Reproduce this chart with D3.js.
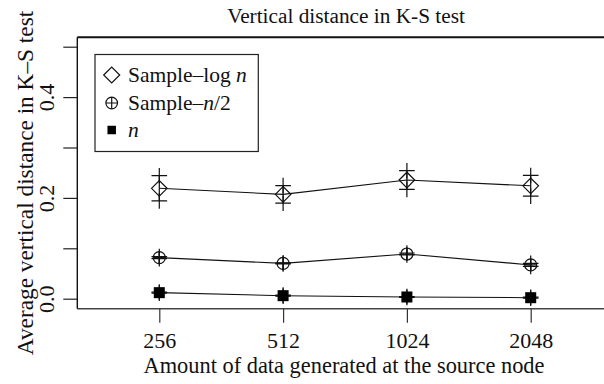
<!DOCTYPE html>
<html>
<head>
<meta charset="utf-8">
<script src="https://cdn.jsdelivr.net/npm/d3@7"></script>
<style>
  html, body { margin: 0; padding: 0; background: #fff; }
  svg { display: block; }
  text { font-family: "Liberation Serif", "DejaVu Serif", serif; fill: #111; }
</style>
</head>
<body>
<svg id="chart" width="604" height="384"></svg>
<script>
// Amount of data generated at the source node
const categories = ["256", "512", "1024", "2048"];

// Average vertical distance (K-S test) per method
const sampleLogN    = [0.219, 0.207, 0.2355, 0.224];
const sampleLogNErr = [0.025, 0.0175, 0.0185, 0.0205];
const sampleHalfN    = [0.0815, 0.070, 0.0887, 0.0670];
const sampleHalfNErr = [0.002, 0.001, 0.002, 0.003];
const fullN    = [0.012, 0.006, 0.0034, 0.002];
const fullNErr = [0.001, 0.001, 0.001, 0.001];

const yTicks = [0, 0.1, 0.2, 0.3, 0.4, 0.5];
const yTickLabels = ["0.0", "", "0.2", "", "0.4", ""];

const svg = d3.select("#chart");
const W = 604;
const frameLeft = 77.3, frameTop = 37.3, frameBottom = 308.7;

const x = d3.scalePoint().domain(categories).range([159.3, 530.7]);
const y = d3.scaleLinear().domain([0, 0.5]).range([298.7, 46.7]);

// frame (right edge lies beyond the visible area)
svg.append("line").attr("x1", frameLeft).attr("x2", W + 5).attr("y1", frameTop).attr("y2", frameTop)
  .attr("stroke", "#111").attr("stroke-width", 2);
svg.append("line").attr("x1", frameLeft).attr("x2", W + 5).attr("y1", frameBottom).attr("y2", frameBottom)
  .attr("stroke", "#444").attr("stroke-width", 1.6);
svg.append("line").attr("x1", frameLeft).attr("x2", frameLeft).attr("y1", frameTop).attr("y2", frameBottom)
  .attr("stroke", "#111").attr("stroke-width", 1.4);

// y axis
const yAxis = d3.axisLeft(y).tickValues(yTicks).tickSize(14).tickPadding(0)
  .tickFormat((d, i) => yTickLabels[i]);
const gy = svg.append("g").attr("transform", `translate(${frameLeft},0)`).call(yAxis);
gy.select(".domain").remove();
gy.selectAll(".tick line").attr("stroke", "#222").attr("stroke-width", 1.2);
gy.selectAll(".tick text")
  .attr("x", 0).attr("dy", null)
  .attr("transform", "translate(-23,0) rotate(-90)")
  .attr("text-anchor", "middle")
  .style("font-size", "22px")
  .style("font-family", "'Liberation Serif', serif")
  .attr("fill", "#111");

// x axis
const xAxis = d3.axisBottom(x).tickSize(14).tickPadding(0);
const gx = svg.append("g").attr("transform", `translate(0,${frameBottom})`).call(xAxis);
gx.select(".domain").remove();
gx.selectAll(".tick line").attr("stroke", "#333").attr("stroke-width", 1.2);
gx.selectAll(".tick text")
  .attr("y", 39.5).attr("dy", null)
  .style("font-size", "22px")
  .style("font-family", "'Liberation Serif', serif")
  .attr("fill", "#111");

// titles
svg.append("text").attr("x", 346).attr("y", 22.5).attr("text-anchor", "middle")
  .style("font-size", "21.3px").text("Vertical distance in K-S test");
svg.append("text").attr("x", 344).attr("y", 372.5).attr("text-anchor", "middle")
  .style("font-size", "22.4px").text("Amount of data generated at the source node");
svg.append("text").attr("transform", "translate(33,183) rotate(-90)").attr("text-anchor", "middle")
  .style("font-size", "23.3px").text("Average vertical distance in K\u2013S test");

// symbol painters
function diamond(g, cx, cy, r) {
  g.append("path").attr("d", `M${cx - r},${cy}L${cx},${cy - r}L${cx + r},${cy}L${cx},${cy + r}Z`)
    .attr("fill", "none").attr("stroke", "#111").attr("stroke-width", 1.2);
}
function circlePlus(g, cx, cy, r) {
  g.append("circle").attr("cx", cx).attr("cy", cy).attr("r", r)
    .attr("fill", "none").attr("stroke", "#111").attr("stroke-width", 1.2);
  g.append("path").attr("d", `M${cx - r},${cy}H${cx + r}M${cx},${cy - r}V${cy + r}`)
    .attr("stroke", "#111").attr("stroke-width", 1.2);
}
function square(g, cx, cy, s) {
  g.append("rect").attr("x", cx - s / 2).attr("y", cy - s / 2).attr("width", s).attr("height", s)
    .attr("fill", "#000");
}
function plus(g, cx, cy, a) {
  g.append("path").attr("d", `M${cx - a},${cy}H${cx + a}M${cx},${cy - a}V${cy + a}`)
    .attr("stroke", "#111").attr("stroke-width", 1.2);
}

const series = [
  { values: sampleLogN, errs: sampleLogNErr, draw: (g, cx, cy) => diamond(g, cx, cy, 7.8) },
  { values: sampleHalfN, errs: sampleHalfNErr, draw: (g, cx, cy) => circlePlus(g, cx, cy, 6) },
  { values: fullN, errs: fullNErr, draw: (g, cx, cy) => square(g, cx, cy, 11) }
];

const line = d3.line().x((d, i) => x(categories[i])).y(d => y(d));
const plot = svg.append("g");
series.forEach(s => {
  plot.append("path").datum(s.values).attr("d", line)
    .attr("fill", "none").attr("stroke", "#111").attr("stroke-width", 1.1);
  s.values.forEach((v, i) => {
    const cx = x(categories[i]);
    const hi = y(v + s.errs[i]), lo = y(v - s.errs[i]);
    plot.append("line").attr("x1", cx).attr("x2", cx).attr("y1", hi).attr("y2", lo)
      .attr("stroke", "#111").attr("stroke-width", 1.2);
    plus(plot, cx, hi, 7.8);
    plus(plot, cx, lo, 7.8);
    s.draw(plot, cx, y(v));
  });
});

// legend
const lg = svg.append("g");
lg.append("rect").attr("x", 95).attr("y", 54.5).attr("width", 163.3).attr("height", 97)
  .attr("fill", "#fff").attr("stroke", "#222").attr("stroke-width", 1.2);
const legendRows = [
  { y: 75, draw: g => diamond(g, 111.7, 75, 8), parts: [["Sample\u2013log ", false], ["n", true]] },
  { y: 103, draw: g => circlePlus(g, 111.7, 103, 5.8), parts: [["Sample\u2013", false], ["n", true], ["/2", false]] },
  { y: 130, draw: g => square(g, 111.7, 130, 8.5), parts: [["n", true]] }
];
legendRows.forEach(r => {
  r.draw(lg);
  const t = lg.append("text").attr("x", 128).attr("y", r.y + 7).style("font-size", "21.5px");
  r.parts.forEach(([s, it]) => t.append("tspan").style("font-style", it ? "italic" : "normal").text(s));
});
</script>
</body>
</html>
